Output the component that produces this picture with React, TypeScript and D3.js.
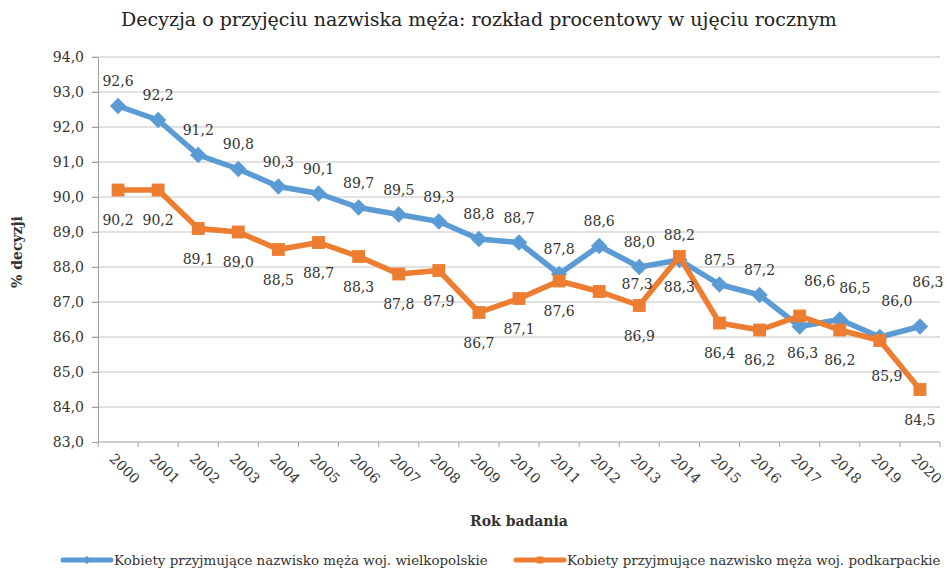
import React, { useEffect, useRef } from "react";
import * as d3 from "d3";

const years = [
  "2000", "2001", "2002", "2003", "2004", "2005", "2006", "2007", "2008", "2009", "2010",
  "2011", "2012", "2013", "2014", "2015", "2016", "2017", "2018", "2019", "2020",
];
const wielkopolskie = [
  92.6, 92.2, 91.2, 90.8, 90.3, 90.1, 89.7, 89.5, 89.3, 88.8, 88.7,
  87.8, 88.6, 88.0, 88.2, 87.5, 87.2, 86.3, 86.5, 86.0, 86.3,
];
const podkarpackie = [
  90.2, 90.2, 89.1, 89.0, 88.5, 88.7, 88.3, 87.8, 87.9, 86.7, 87.1,
  87.6, 87.3, 86.9, 88.3, 86.4, 86.2, 86.6, 86.2, 85.9, 84.5,
];
const yTicks = [83, 84, 85, 86, 87, 88, 89, 90, 91, 92, 93, 94];
const seriesNames = [
  "Kobiety przyjmujące nazwisko męża woj. wielkopolskie",
  "Kobiety przyjmujące nazwisko męża woj. podkarpackie",
];

// labels that were dragged by hand in the original
const blueNudge: Record<number, [number, number]> = {
  17: [3, 26],
  18: [15, -32],
  19: [17, -36],
  20: [8, -45],
};
const orangeNudge: Record<number, [number, number]> = {
  12: [38, -8],
  17: [20, -35],
  19: [7, 35],
};

const BLUE = "#5B9BD5";
const ORANGE = "#ED7D31";
const FONT = "'DejaVu Serif', serif";

const App = () => {
  const ref = useRef<SVGSVGElement>(null);

  useEffect(() => {
    const width = 947;
    const height = 569;
    const svg = d3.select(ref.current).attr("width", width).attr("height", height);
    svg.selectAll("*").remove();

    const x = d3.scaleBand().domain(years).range([98, 940]);
    const y = d3.scaleLinear().domain([83, 94]).range([442, 57]);
    const cx = (d: string) => (x(d) as number) + x.bandwidth() / 2;
    const fmt = (v: number) => d3.format(".1f")(v).replace(".", ",");

    svg
      .append("text")
      .attr("x", 479)
      .attr("y", 26)
      .attr("text-anchor", "middle")
      .style("font-family", FONT)
      .style("font-size", "19px")
      .attr("fill", "#222")
      .text("Decyzja o przyjęciu nazwiska męża: rozkład procentowy w ujęciu rocznym");

    // grid
    svg
      .append("g")
      .selectAll("line")
      .data(yTicks.filter((t) => t > 83))
      .enter()
      .append("line")
      .attr("x1", 92)
      .attr("x2", 940)
      .attr("y1", (d) => y(d))
      .attr("y2", (d) => y(d))
      .attr("stroke", "#c4c4c4")
      .attr("stroke-width", 1);

    // y axis
    const yAxis = svg
      .append("g")
      .attr("transform", "translate(98,0)")
      .call(d3.axisLeft(y).tickValues(yTicks).tickSize(6).tickFormat((d) => fmt(d as number)));
    yAxis.select(".domain").attr("stroke", "#a0a0a0");
    yAxis.selectAll(".tick line").attr("stroke", "#a0a0a0");
    yAxis
      .selectAll(".tick text")
      .attr("x", -14)
      .style("font-family", FONT)
      .style("font-size", "14px")
      .attr("fill", "#333");

    // x axis
    const xAxis = svg.append("g").attr("transform", "translate(0,442)");
    xAxis
      .append("line")
      .attr("x1", 98)
      .attr("x2", 940)
      .attr("stroke", "#a0a0a0");
    xAxis
      .selectAll(".xt")
      .data(years.concat(["end"]))
      .enter()
      .append("line")
      .attr("x1", (d, i) => 98 + i * x.bandwidth())
      .attr("x2", (d, i) => 98 + i * x.bandwidth())
      .attr("y1", 0)
      .attr("y2", 5)
      .attr("stroke", "#a0a0a0");
    xAxis
      .selectAll(".xl")
      .data(years)
      .enter()
      .append("text")
      .attr("transform", (d) => `translate(${cx(d) - 6},${14}) rotate(45)`)
      .attr("dy", "0.35em")
      .style("font-family", FONT)
      .style("font-size", "14px")
      .attr("fill", "#333")
      .text((d) => d);

    // axis titles
    svg
      .append("text")
      .attr("transform", "translate(22,252) rotate(-90)")
      .attr("text-anchor", "middle")
      .style("font-family", FONT)
      .style("font-size", "14px")
      .style("font-weight", "bold")
      .attr("fill", "#333")
      .text("% decyzji");
    svg
      .append("text")
      .attr("x", 519)
      .attr("y", 526)
      .attr("text-anchor", "middle")
      .style("font-family", FONT)
      .style("font-size", "14px")
      .style("font-weight", "bold")
      .attr("fill", "#333")
      .text("Rok badania");

    const line = d3
      .line<number>()
      .x((d, i) => cx(years[i]))
      .y((d) => y(d));

    const diamond = d3.symbol().type(d3.symbolDiamond2).size(170);
    const square = d3.symbol().type(d3.symbolSquare2).size(210);

    // blue series
    svg
      .append("path")
      .datum(wielkopolskie)
      .attr("d", line)
      .attr("fill", "none")
      .attr("stroke", BLUE)
      .attr("stroke-width", 5.5)
      .attr("stroke-linejoin", "round");
    svg
      .append("g")
      .selectAll("path")
      .data(wielkopolskie)
      .enter()
      .append("path")
      .attr("d", diamond)
      .attr("transform", (d, i) => `translate(${cx(years[i])},${y(d)})`)
      .attr("fill", BLUE);

    // orange series
    svg
      .append("path")
      .datum(podkarpackie)
      .attr("d", line)
      .attr("fill", "none")
      .attr("stroke", ORANGE)
      .attr("stroke-width", 5.5)
      .attr("stroke-linejoin", "round");
    svg
      .append("g")
      .selectAll("path")
      .data(podkarpackie)
      .enter()
      .append("path")
      .attr("d", square)
      .attr("transform", (d, i) => `translate(${cx(years[i])},${y(d)})`)
      .attr("fill", ORANGE);

    // data labels
    const addLabels = (vals: number[], dyDefault: number, nudge: Record<number, [number, number]>) => {
      svg
        .append("g")
        .selectAll("text")
        .data(vals)
        .enter()
        .append("text")
        .attr("x", (d, i) => cx(years[i]) + (nudge[i] ? nudge[i][0] : 0))
        .attr("y", (d, i) => y(d) + (nudge[i] ? nudge[i][1] : dyDefault))
        .attr("text-anchor", "middle")
        .attr("dominant-baseline", "central")
        .style("font-family", FONT)
        .style("font-size", "14px")
        .attr("fill", "#333")
        .text((d) => fmt(d));
    };
    addLabels(wielkopolskie, -25, blueNudge);
    addLabels(podkarpackie, 30, orangeNudge);

    // legend
    const legend = svg.append("g");
    const items = [
      { name: seriesNames[0], color: BLUE, sym: d3.symbol().type(d3.symbolDiamond2).size(45), x0: 63 },
      { name: seriesNames[1], color: ORANGE, sym: d3.symbol().type(d3.symbolSquare2).size(60), x0: 516 },
    ];
    items.forEach((it) => {
      legend
        .append("line")
        .attr("x1", it.x0)
        .attr("x2", it.x0 + 48)
        .attr("y1", 560)
        .attr("y2", 560)
        .attr("stroke", it.color)
        .attr("stroke-width", 5)
        .attr("stroke-linecap", "round");
      legend
        .append("path")
        .attr("d", it.sym)
        .attr("transform", `translate(${it.x0 + 24},560)`)
        .attr("fill", it.color);
      legend
        .append("text")
        .attr("x", it.x0 + 51)
        .attr("y", 560)
        .attr("dominant-baseline", "central")
        .style("font-family", FONT)
        .style("font-size", "13.4px")
        .attr("fill", "#333")
        .text(it.name);
    });

    return () => {
      d3.select(ref.current).selectAll("*").remove();
    };
  }, []);

  return (
    <svg
      ref={ref}
      style={{ position: "absolute", left: 0, top: 0, background: "#fff" }}
    ></svg>
  );
};

export default App;
